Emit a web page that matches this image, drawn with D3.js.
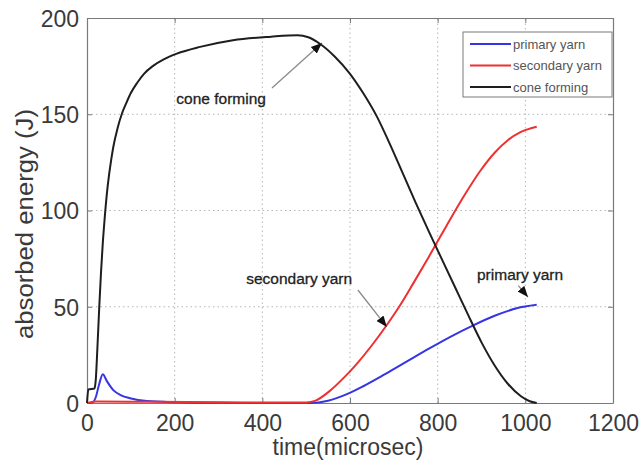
<!DOCTYPE html>
<html><head><meta charset="utf-8">
<script src="https://cdn.jsdelivr.net/npm/d3@7"></script>
<style>body{margin:0;background:#fff}svg{display:block}</style>
</head><body>
<svg id="c" width="643" height="464"></svg>
<script>
const xTicks = [0, 200, 400, 600, 800, 1000, 1200];
const yTicks = [0, 50, 100, 150, 200];
const seriesNames = ["primary yarn", "secondary yarn", "cone forming"];
const legendLabels = ["primary yarn", "secondary yarn", "cone forming"];
const seriesColors = ["#3535e6", "#ee3030", "#1e1e1e"];

// [time (microsec), absorbed energy (J)]
const primaryYarn = [[0,0],[12,0.2],[20,3],[28,10],[36,15],[45,11.5],[60,6.7],[78,4],[98,2.5],[137,1],[200,0.4],[300,0.1],[510,0],[550,1.2],[593,4.6],[630,8.7],[680,15],[730,21.6],[780,28.2],[830,34.5],[880,40.2],[930,45.3],[980,49.2],[1026,51]];
const secondaryYarn = [[0,0],[20,0.8],[150,0.6],[300,0.4],[470,0.2],[500,0.3],[520,1.1],[554,6.3],[585,12.9],[616,20.5],[650,30],[684,40.5],[715,51],[745,62.4],[780,76],[820,92],[860,107.5],[897,120.5],[930,130],[960,136.5],[990,140.8],[1026,143.5]];
const coneForming = [[0,0],[3,7],[17,7.5],[20,12],[24,30],[28,50],[32,68],[36,83],[40,95],[45,108],[50,118],[55,126],[60,133],[70,143],[80,150.5],[90,156],[100,161],[115,166.5],[130,171],[150,175],[175,178.5],[205,181.5],[258,185],[333,188.5],[420,190.3],[480,191],[505,190],[532,186.5],[565,180],[600,171],[630,161],[662,148.5],[690,135],[720,119.5],[750,104],[780,89],[810,74.5],[840,60],[870,45.5],[900,31.5],[930,19.5],[960,10],[990,3.5],[1010,0.9],[1026,0]];
const series = [primaryYarn, secondaryYarn, coneForming];

// annotations: label, text anchor point, arrow start, arrow tip (data units)
const annotations = [
  {text:"cone forming", at:[306,158.4], from:[422,163.6], to:[536,187]},
  {text:"secondary yarn", at:[484,64.4], from:[618,58.7], to:[684,39.5]},
  {text:"primary yarn", at:[988,66.5], from:[984,61], to:[1006,55]}
];

const svg = d3.select("#c");
const x = d3.scaleLinear().domain([0,1200]).range([87,613]);
const y = d3.scaleLinear().domain([0,200]).range([403,18]);
const font = "'Liberation Sans', Arial, sans-serif";
const fmt = d3.format("d");

// grid
const g = svg.append("g");
g.selectAll(".gx").data(xTicks.slice(1,-1)).join("line")
  .attr("x1",d=>x(d)).attr("x2",d=>x(d)).attr("y1",y(0)).attr("y2",y(200))
  .attr("stroke","#b5b5b5").attr("stroke-width",1).attr("stroke-dasharray","1.5,3");
g.selectAll(".gy").data(yTicks.slice(1,-1)).join("line")
  .attr("y1",d=>y(d)).attr("y2",d=>y(d)).attr("x1",x(0)).attr("x2",x(1200))
  .attr("stroke","#b5b5b5").attr("stroke-width",1).attr("stroke-dasharray","1.5,3");

// axes (MATLAB style, inward ticks)
const axB = svg.append("g").attr("transform",`translate(0,${y(0)})`)
  .call(d3.axisBottom(x).tickValues(xTicks).tickFormat(fmt).tickSizeInner(-5).tickSizeOuter(0).tickPadding(10));
const axT = svg.append("g").attr("transform",`translate(0,${y(200)})`)
  .call(d3.axisTop(x).tickValues(xTicks).tickSizeInner(-5).tickSizeOuter(0).tickFormat(""));
const axL = svg.append("g").attr("transform",`translate(${x(0)},0)`)
  .call(d3.axisLeft(y).tickValues(yTicks).tickFormat(fmt).tickSizeInner(-5).tickSizeOuter(0).tickPadding(8));
const axR = svg.append("g").attr("transform",`translate(${x(1200)},0)`)
  .call(d3.axisRight(y).tickValues(yTicks).tickSizeInner(-5).tickSizeOuter(0).tickFormat(""));
[axB,axT,axL,axR].forEach(a=>{
  a.select(".domain").attr("stroke","#7a7a7a").attr("stroke-width",1.2);
  a.selectAll(".tick line").attr("stroke","#7a7a7a");
  a.selectAll("text").attr("font-family",font).attr("font-size",23).attr("fill","#3a3a3a");
});
axB.selectAll("text").attr("dy","0.71em").attr("y",12);
axL.selectAll("text").attr("dy","0.36em");

// series
const line = d3.line().x(d=>x(d[0])).y(d=>y(d[1])).curve(d3.curveMonotoneX);
svg.append("g").selectAll("path").data(series).join("path")
  .attr("d",line).attr("fill","none")
  .attr("stroke",(d,i)=>seriesColors[i]).attr("stroke-width",2);

// annotations
svg.append("defs").append("marker").attr("id","ah").attr("viewBox","0 0 10 10")
  .attr("refX",10).attr("refY",5).attr("markerWidth",11).attr("markerHeight",11)
  .attr("markerUnits","userSpaceOnUse").attr("orient","auto")
  .append("path").attr("d","M0,1 L10,5 L0,9 Z").attr("fill","#111");
const an = svg.append("g");
an.selectAll("line").data(annotations).join("line")
  .attr("x1",d=>x(d.from[0])).attr("y1",d=>y(d.from[1]))
  .attr("x2",d=>x(d.to[0])).attr("y2",d=>y(d.to[1]))
  .attr("stroke","#8a8a8a").attr("stroke-width",1.3).attr("marker-end","url(#ah)");
an.selectAll("text").data(annotations).join("text")
  .attr("x",d=>x(d.at[0])).attr("y",d=>y(d.at[1])).attr("dy","0.35em")
  .attr("text-anchor","middle").attr("font-family",font).attr("font-size",15.5)
  .attr("fill","#222").attr("stroke","#222").attr("stroke-width",0.3)
  .text(d=>d.text);

// axis labels
svg.append("text").attr("x",348).attr("y",455).attr("text-anchor","middle")
  .attr("font-family",font).attr("font-size",23).attr("fill","#3a3a3a").text("time(microsec)");
svg.append("text").attr("transform","translate(33,224) rotate(-90)").attr("text-anchor","middle")
  .attr("font-family",font).attr("font-size",23).attr("fill","#3a3a3a")
  .attr("textLength",230).attr("lengthAdjust","spacingAndGlyphs").text("absorbed energy (J)");

// legend
const lg = svg.append("g");
lg.append("rect").attr("x",463).attr("y",32).attr("width",149).attr("height",65)
  .attr("fill","#fff").attr("stroke","#7a7a7a").attr("stroke-width",1);
const rows = lg.selectAll("g").data(legendLabels).join("g")
  .attr("transform",(d,i)=>`translate(0,${44 + i*21.5})`);
rows.append("line").attr("x1",470).attr("x2",511).attr("y1",0).attr("y2",0)
  .attr("stroke",(d,i)=>seriesColors[i]).attr("stroke-width",2);
rows.append("text").attr("x",513).attr("y",0).attr("dy","0.35em")
  .attr("font-family",font).attr("font-size",13).attr("fill","#555").text(d=>d);
</script>
</body></html>
